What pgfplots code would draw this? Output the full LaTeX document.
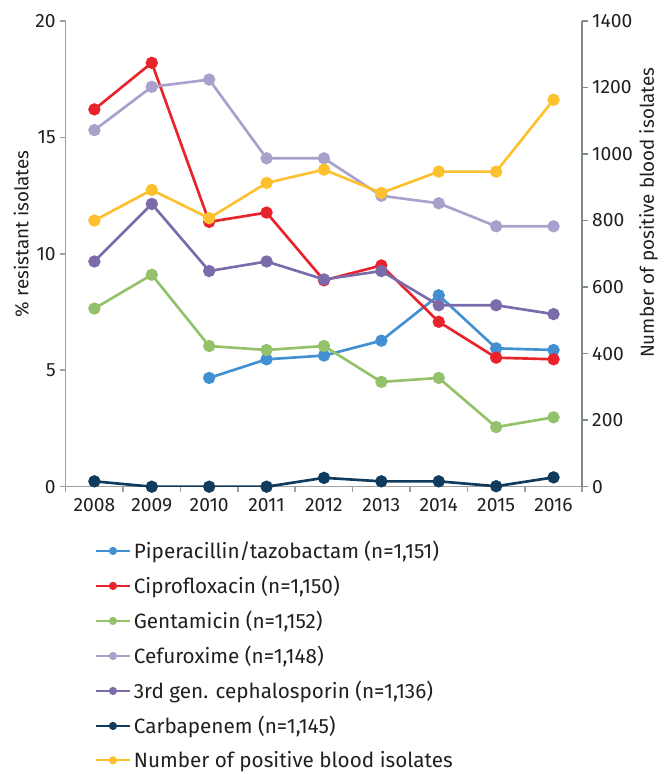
\documentclass[border=0pt]{standalone}
\usepackage{pgfplots}
\pgfplotsset{compat=1.18}
\usepackage{fontspec}
\setmainfont{Fira Sans}
\definecolor{cBlue}{HTML}{4290D2}
\definecolor{cRed}{HTML}{E8232B}
\definecolor{cGreen}{HTML}{93C26B}
\definecolor{cLav}{HTML}{A9A1CB}
\definecolor{cPurp}{HTML}{7B6BAA}
\definecolor{cNavy}{HTML}{103B5C}
\definecolor{cYel}{HTML}{FDC130}
\definecolor{axgray}{HTML}{A0A0A0}
\definecolor{axgray2}{HTML}{7F8A8E}
\definecolor{txt}{HTML}{231F20}
\pgfplotsset{
  common/.style={
    scale only axis, width=389.25pt, height=351pt,
    xmin=2007.5, xmax=2016.5,
    /pgf/number format/assume math mode=true,
    tick label style={font=\fontsize{14.5}{16}\selectfont, text=txt},
    label style={font=\fontsize{14.2}{16}\selectfont, text=txt},
    every axis plot/.append style={line width=2pt, mark=*, mark size=3.6pt},
  },
  ser/.style={color=#1, mark options={fill=#1, draw=#1}},
}
\begin{document}
\begin{tikzpicture}
\begin{axis}[common,
  ymin=0, ymax=20, ytick={0,5,10,15,20},
  axis x line*=bottom, axis y line*=left,
  axis line style={draw=axgray, line width=1.2pt},
  xtick={2008,...,2016}, major x tick style={draw=none},
  x tick label style={/pgf/number format/1000 sep={}},
  minor xtick={2007.5,2008.5,...,2016.5},
  minor x tick style={draw=axgray, line width=1.2pt},
  minor tick length=4pt,
  tick align=outside, major tick length=4pt,
  y tick style={draw=axgray, line width=1.2pt},
  ylabel={\% resistant isolates},
  ylabel style={at={(ticklabel cs:0.543)}, yshift=-2pt},
  xticklabel style={yshift=-1pt},
]
\coordinate (ll) at (rel axis cs:0,0);
\coordinate (ur) at (rel axis cs:1,1);
\addplot[ser=cBlue] coordinates {(2010,4.67) (2011,5.47) (2012,5.63) (2013,6.27) (2014,8.22) (2015,5.94) (2016,5.87)};
\addplot[ser=cRed] coordinates {(2008,16.2) (2009,18.2) (2010,11.37) (2011,11.77) (2012,8.86) (2013,9.5) (2014,7.08) (2015,5.54) (2016,5.47)};
\addplot[ser=cGreen] coordinates {(2008,7.65) (2009,9.1) (2010,6.04) (2011,5.87) (2012,6.04) (2013,4.5) (2014,4.67) (2015,2.56) (2016,2.98)};
\addplot[ser=cLav] coordinates {(2008,15.31) (2009,17.17) (2010,17.48) (2011,14.1) (2012,14.1) (2013,12.49) (2014,12.17) (2015,11.18) (2016,11.18)};
\addplot[ser=cPurp] coordinates {(2008,9.67) (2009,12.14) (2010,9.26) (2011,9.67) (2012,8.9) (2013,9.26) (2014,7.79) (2015,7.79) (2016,7.41)};
\addplot[ser=cNavy] coordinates {(2008,0.23) (2009,0) (2010,0) (2011,0) (2012,0.38) (2013,0.23) (2014,0.23) (2015,0.02) (2016,0.4)};
\end{axis}
\begin{axis}[common,
  ymin=0, ymax=1400, ytick={0,200,...,1400},
  axis x line=none, axis y line*=right,
  axis line style={draw=axgray2, line width=1.2pt},
  y tick style={draw=axgray2, line width=1.2pt},
  tick align=outside, major tick length=4pt,
  y tick label style={/pgf/number format/1000 sep={}},
  ylabel={Number of positive blood isolates},
  ylabel style={at={(ticklabel cs:0.588)}, yshift=2pt},
  legend style={draw=none, fill=none, at={(0.048,-0.105)}, anchor=north west,
    font=\fontsize{15.6}{18}\selectfont, text=txt, row sep=7.7pt,
    /tikz/every even column/.append style={column sep=0pt}},
  legend cell align=left,
  legend image code/.code={\draw[line width=1.5pt, mark size=2.3pt, mark repeat=2, mark phase=2] plot coordinates {(0pt,0pt) (13pt,0pt) (26pt,0pt)};},
]
\addlegendimage{ser=cBlue}\addlegendentry{Piperacillin/tazobactam (n=1,151)}
\addlegendimage{ser=cRed}\addlegendentry{Ciprofloxacin (n=1,150)}
\addlegendimage{ser=cGreen}\addlegendentry{Gentamicin (n=1,152)}
\addlegendimage{ser=cLav}\addlegendentry{Cefuroxime (n=1,148)}
\addlegendimage{ser=cPurp}\addlegendentry{3rd gen. cephalosporin (n=1,136)}
\addlegendimage{ser=cNavy}\addlegendentry{Carbapenem (n=1,145)}
\addplot[ser=cYel] coordinates {(2008,800) (2009,892) (2010,807) (2011,913) (2012,953) (2013,883) (2014,947) (2015,947) (2016,1163)};
\addlegendentry{Number of positive blood isolates}
\end{axis}
\pgfresetboundingbox
\path ([shift={(-49.5pt,-216.5pt)}]ll) rectangle ([shift={(63.75pt,15.75pt)}]ur);
\end{tikzpicture}
\end{document}
